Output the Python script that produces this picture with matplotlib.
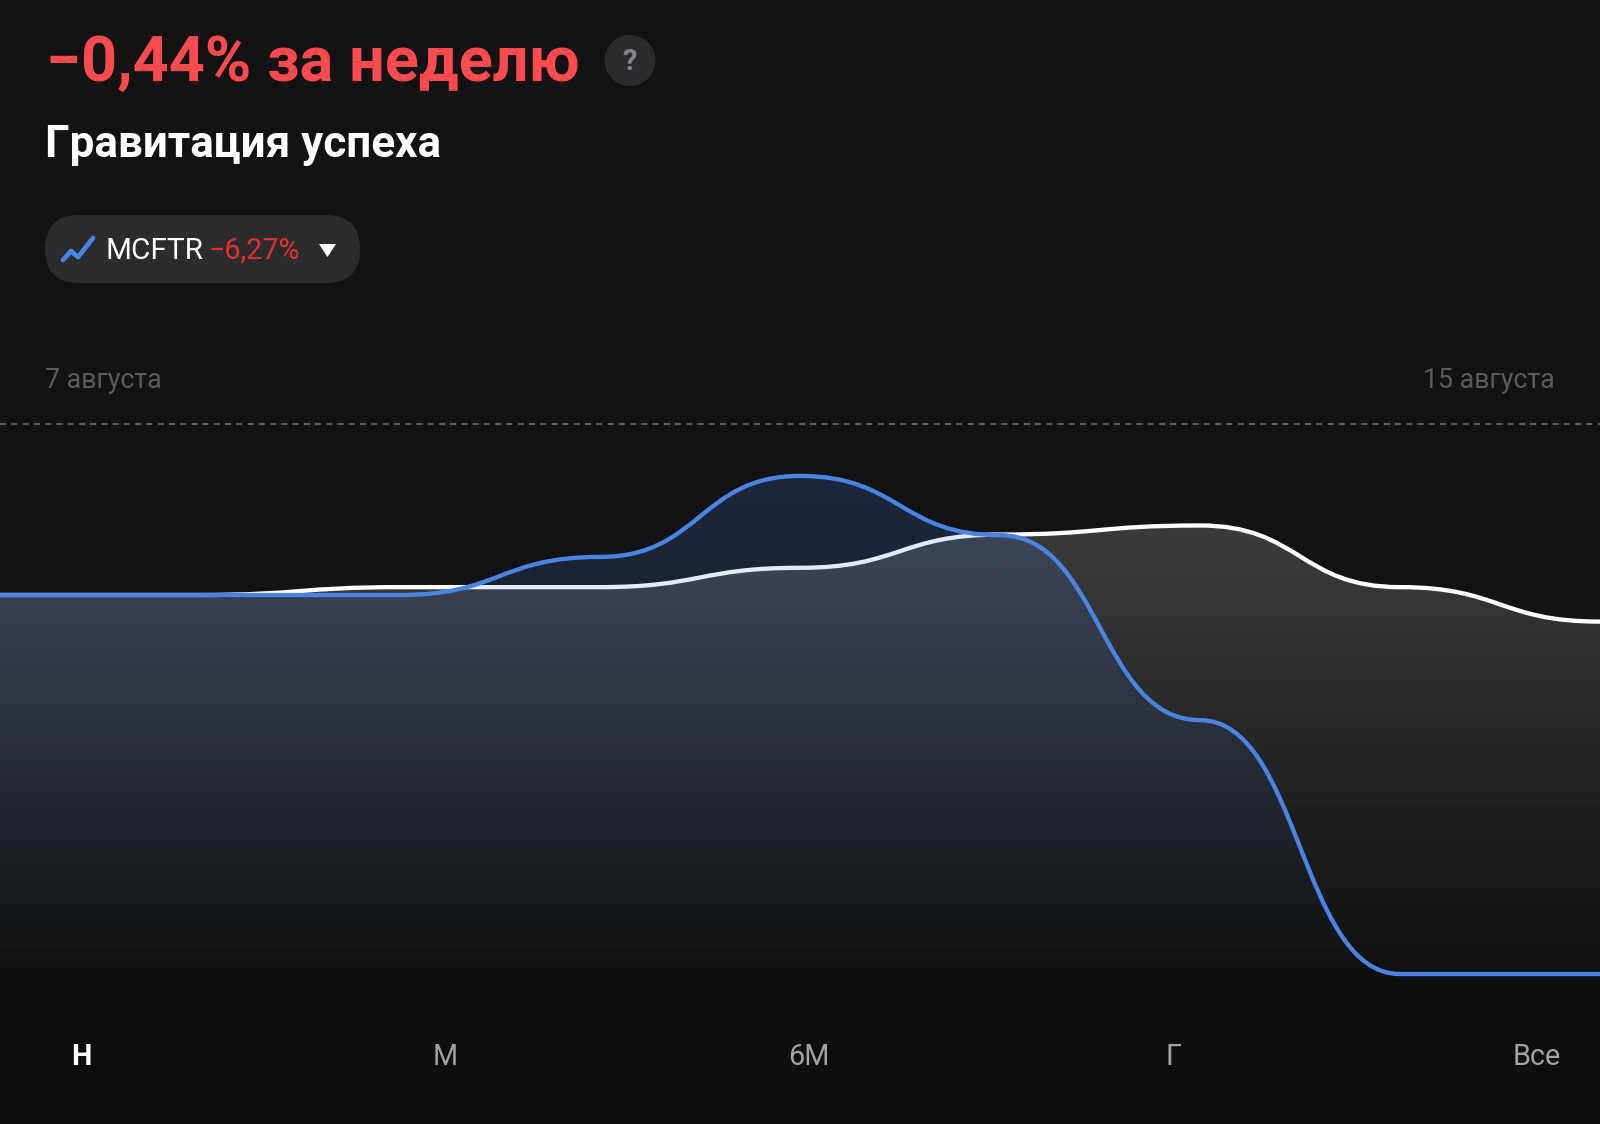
import numpy as np
import matplotlib
matplotlib.use("Agg")
import matplotlib.pyplot as plt
from matplotlib.path import Path
from matplotlib.patches import PathPatch, FancyBboxPatch, Circle, Polygon
from matplotlib.colors import LinearSegmentedColormap

# Data: cumulative change in percent, one value per day
days = [7, 8, 9, 10, 11, 12, 13, 14, 15]
fund = [0.00, 0.00, 0.13, 0.13, 0.45, 1.00, 1.15, 0.13, -0.44]
index_mcftr = [0.00, 0.00, 0.00, 0.63, 1.97, 0.99, -2.07, -6.27, -6.27]
period_labels = ["Н", "М", "6М", "Г", "Все"]
title = "−0,44% за неделю"
subtitle = "Гравитация успеха"
index_name = "MCFTR"
index_change = "−6,27%"
start_label = "7 августа"
end_label = "15 августа"

W, H = 1600, 1124
PX_PER_PCT = 60.45
Y0_PX = 595
BG = "#131315"
BLUE = "#4c84e4"
plt.rcParams["font.family"] = ["Roboto", "DejaVu Sans"]

fig = plt.figure(figsize=(W / 100, H / 100), dpi=100, facecolor=BG)

# Page background: slightly darker toward the bottom
bg_ax = fig.add_axes([0, 0, 1, 1], zorder=-1)
bg_ax.set_axis_off()
bg_cmap = LinearSegmentedColormap.from_list("bg", [(0, "#0e0f0f"), (0.2, "#0f1010"), (0.45, "#131315"), (1, "#131315")])
bg_ax.imshow(np.linspace(1, 0, 256)[:, None], cmap=bg_cmap, aspect="auto", vmin=0, vmax=1,
             extent=(0, 1, 0, 1))

ax = fig.add_axes([0, 0, 1, 1], facecolor="none")
ax.set_axis_off()
ymax = Y0_PX / PX_PER_PCT
ymin = (Y0_PX - H) / PX_PER_PCT
x_lo, x_hi = days[0], days[-1]


def curve(xs, ys):
    verts = [(xs[0], ys[0])]
    codes = [Path.MOVETO]
    for i in range(len(xs) - 1):
        mid = (xs[i] + xs[i + 1]) / 2
        verts += [(mid, ys[i]), (mid, ys[i + 1]), (xs[i + 1], ys[i + 1])]
        codes += [Path.CURVE4] * 3
    return verts, codes


def gradient_fill(xs, ys, color, a_top, top_val, bottom_val, z):
    verts, codes = curve(xs, ys)
    verts += [(xs[-1], ymin), (xs[0], ymin), (xs[0], ys[0]), (xs[0], ys[0])]
    codes += [Path.LINETO, Path.LINETO, Path.LINETO, Path.CLOSEPOLY]
    patch = PathPatch(Path(verts, codes), fc="none", ec="none", transform=ax.transData)
    ax.add_patch(patch)
    rgba = np.ones((256, 1, 4))
    rgba[..., :3] = matplotlib.colors.to_rgb(color)
    rgba[:, 0, 3] = np.linspace(1, 0, 256) * a_top
    im = ax.imshow(rgba, extent=(x_lo, x_hi, bottom_val, top_val), aspect="auto",
                   origin="upper", zorder=z, interpolation="bilinear")
    im.set_clip_path(patch)


def line(xs, ys, color, z):
    verts, codes = curve(xs, ys)
    ax.add_patch(PathPatch(Path(verts, codes), fc="none", ec=color, lw=3.1, zorder=z,
                           capstyle="round", joinstyle="round"))


gradient_fill(days, fund, "#ffffff", 0.17, 1.15, -6.75, 2)
line(days, fund, "#ffffff", 3)
gradient_fill(days, index_mcftr, BLUE, 0.19, 1.97, -6.75, 4)
line(days, index_mcftr, BLUE, 5)

ax.axhline((Y0_PX - 424) / PX_PER_PCT, color="#5e5e60", lw=1.5, ls=(0, (3, 2.4)), zorder=1)
ax.set_xlim(x_lo, x_hi)
ax.set_ylim(ymin, ymax)

# Interface overlay in pixel coordinates
ui = fig.add_axes([0, 0, 1, 1], facecolor="none")
ui.set_axis_off()
ui.set_xlim(0, W)
ui.set_ylim(H, 0)

ui.text(46, 64, title, color="#fb4b4e", fontsize=45.4, fontweight="bold", va="center", ha="left")
ui.add_patch(Circle((630, 60.5), 25.5, fc="#2c2c2e", ec="none"))
ui.text(630, 62, "?", color="#85858a", fontsize=21, fontweight="bold", ha="center", va="center")
ui.text(45, 145, subtitle, color="#ffffff", fontsize=31.7, fontweight="bold", va="center", ha="left")

ui.add_patch(FancyBboxPatch((45 + 34, 215 + 34), 315 - 68, 0.01,
                            boxstyle="round,pad=34,rounding_size=34", fc="#2c2c2e", ec="none"))
ui.plot([63, 71, 78, 86, 93], [260, 251, 257, 247, 238], color=BLUE, lw=3.4,
        solid_capstyle="round", solid_joinstyle="round")
ui.text(105, 251, index_name, color="#ffffff", fontsize=21.4, va="center", ha="left")
ui.text(209, 251, index_change, color="#e5312f", fontsize=20.6, va="center", ha="left")
ui.add_patch(Polygon([(319, 244), (336, 244), (327.5, 257)], closed=True, fc="#ffffff", ec="none"))

ui.text(45, 381, start_label, color="#5c5c5e", fontsize=19.3, va="center", ha="left")
ui.text(1555, 381, end_label, color="#5c5c5e", fontsize=19.3, va="center", ha="right")

for xc, lab in zip([81, 445, 809, 1173, 1537], period_labels):
    sel = lab == "Н"
    ui.text(xc, 1057, lab, color="#ffffff" if sel else "#a3a3a6", fontsize=20.7,
            fontweight="bold" if sel else "normal", ha="center", va="center")

fig.savefig("out.png", dpi=100, facecolor=BG)
